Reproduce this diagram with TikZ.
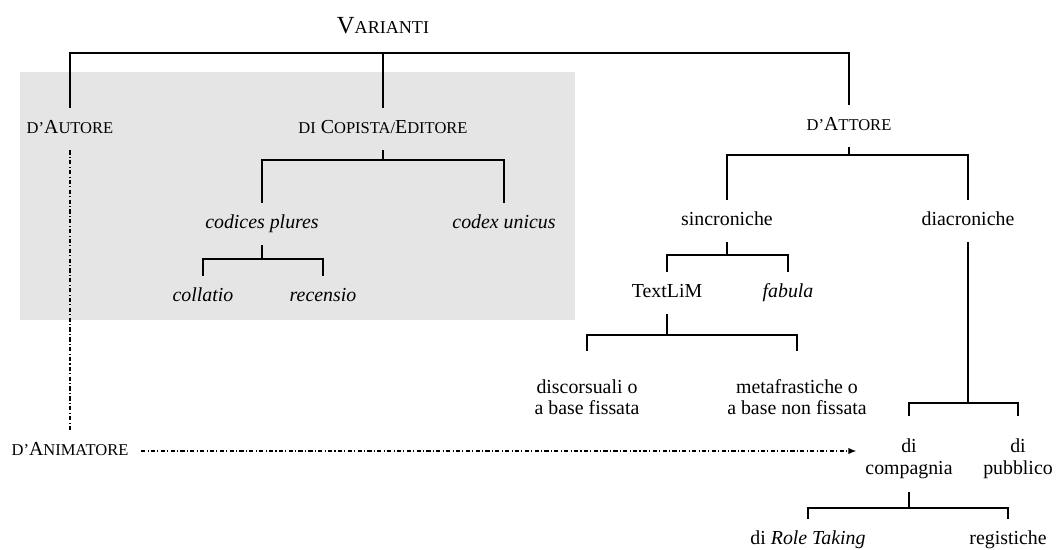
\documentclass[tikz,border=0pt]{standalone}
\usepackage{fontspec}
\setmainfont{Liberation Serif}
\usetikzlibrary{arrows.meta}
\newcommand{\smc}[1]{{\fontsize{9.4}{11}\selectfont #1}}

\begin{document}
\begin{tikzpicture}[x=0.02cm,y=-0.02cm,
    every node/.style={font=\fontsize{11.3}{12}\selectfont},
    lbl/.style={anchor=center,inner xsep=3pt,inner ysep=7pt,text height=7.5pt,text depth=2.4pt},
    twolbl/.style={anchor=center,align=center,inner xsep=3pt},
    branch/.style={line width=0.7pt},
    dashdot/.style={line width=0.7pt,dash pattern=on 2.4pt off 1.3pt on 0.6pt off 1.3pt}]
    \useasboundingbox (0,0) rectangle (1063,549);
    %% shaded area
    \fill[gray!20] (20,72) rectangle (575,320);
    %% title
    \node[anchor=base] (var) at (383,33) {\fontsize{14}{16}\selectfont V{\fontsize{10.3}{12}\selectfont ARIANTI}};
    %% first level
    \node[lbl] (aut) at (70,129) {\smc{D’}A\smc{UTORE}};
    \node[lbl] (cop) at (383,129) {\smc{DI} C\smc{OPISTA/}E\smc{DITORE}};
    \node[lbl] (att) at (849,126) {\smc{D’}A\smc{TTORE}};
    \node[lbl] (ani) at (70,451) {\smc{D’}A\smc{NIMATORE}};
    %% copista/editore
    \node[lbl] (plures) at (262,224) {\textit{codices plures}};
    \node[lbl] (unicus) at (504,224) {\textit{codex unicus}};
    \node[lbl] (coll) at (203,297) {\textit{collatio}};
    \node[lbl] (rec) at (323,297) {\textit{recensio}};
    %% attore
    \node[lbl] (sinc) at (727,221) {sincroniche};
    \node[lbl] (diac) at (968,221) {diacroniche};
    \node[lbl] (txt) at (667,293) {TextLiM};
    \node[lbl] (fab) at (788,293) {\textit{fabula}};
    \node[twolbl,inner ysep=16pt] (disc) at (587,397) {discorsuali o\\a base fissata};
    \node[twolbl,inner ysep=16pt] (meta) at (797,397) {metafrastiche o\\a base non fissata};
    \node[twolbl,inner ysep=7.4pt,font=\fontsize{11.3}{12.5}\selectfont] (comp) at (909,459) {di\\compagnia};
    \node[twolbl,inner ysep=7.4pt,font=\fontsize{11.3}{12.5}\selectfont] (pubb) at (1018,459) {di\\pubblico};
    \node[lbl] (role) at (808,540) {di \textit{Role Taking}};
    \node[lbl] (regi) at (1008,540) {registiche};
    %% junctions
    \coordinate (j0) at (383,53);
    \coordinate (j1) at (383,160);
    \coordinate (j2) at (262,259);
    \coordinate (j3) at (849,155);
    \coordinate (j4) at (727,255);
    \coordinate (j5) at (667,335);
    \coordinate (j6) at (968,403);
    \coordinate (j7) at (909,508);
    %% tree
    \draw[branch] (aut.north) |- (j0) -| (att.north);
    \draw[branch] (cop.north) -- (cop.north |- j0);
    \draw[branch] (cop.south) -- (j1);
    \draw[branch] (plures.north) |- (j1) -| (unicus.north);
    \draw[branch] (plures.south) -- (j2);
    \draw[branch] (coll.north) |- (j2) -| (rec.north);
    \draw[branch] (att.south) -- (j3);
    \draw[branch] (sinc.north) |- (j3) -| (diac.north);
    \draw[branch] (sinc.south) -- (j4);
    \draw[branch] (txt.north) |- (j4) -| (fab.north);
    \draw[branch] (txt.south) -- (j5);
    \draw[branch] (disc.north) |- (j5) -| (meta.north);
    \draw[branch] (diac.south) -- (j6);
    \draw[branch,shorten <=5.5pt,shorten >=5.5pt] (comp.north) |- (j6) -| (pubb.north);
    \draw[branch] (comp.south) -- (j7);
    \draw[branch] (role.north) |- (j7) -| (regi.north);
    %% animatore
    \draw[dashdot] (aut.south) -- (ani.north);
    \draw[dashdot,-{Latex[length=4.5pt,width=3.6pt]},shorten <=4pt,shorten >=2pt] (ani.east) -- (ani.east -| comp.west);
\end{tikzpicture}
\end{document}
